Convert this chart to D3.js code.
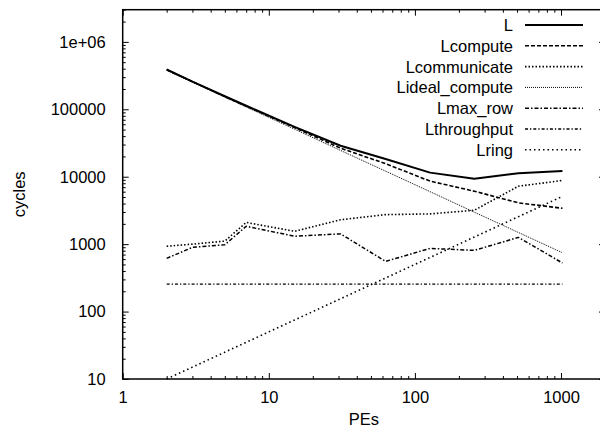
<!DOCTYPE html>
<html>
<head>
<meta charset="utf-8">
<script src="https://cdn.jsdelivr.net/npm/d3@7"></script>
<style>
  html, body { margin: 0; padding: 0; background: #fff; }
  svg { display: block; }
  text { font-family: "Liberation Sans", Arial, Helvetica, sans-serif; font-size: 16.5px; fill: #000; }
</style>
</head>
<body>
<svg id="chart" width="600" height="432"></svg>
<script>
// ---- data ----
const pes = [2, 3, 5, 7, 15, 31, 63, 127, 255, 511, 1023];
const L            = [389000, 258000, 156000, 113000, 55000, 28800, 18300, 11500, 9300, 11300, 12200];
const Lcompute     = [386000, 257000, 154000, 111000, 53500, 26500, 15600, 8600, 6100, 4100, 3400];
const Lcommunicate = [930, 1000, 1110, 2100, 1550, 2300, 2740, 2810, 3180, 7230, 8800];
const Lideal       = [380000, 253000, 152000, 108500, 50700, 24500, 12100, 6000, 2980, 1490, 745];
const Lmax_row     = [615, 896, 980, 1840, 1310, 1420, 555, 865, 808, 1260, 525];
const Lthroughput  = [256, 256, 256, 256, 256, 256, 256, 256, 256, 256, 256];
const Lring        = [10, 15, 25, 35, 75, 155, 315, 635, 1275, 2555, 5115];

const seriesNames = ["L", "Lcompute", "Lcommunicate", "Lideal_compute", "Lmax_row", "Lthroughput", "Lring"];
const seriesData  = [L, Lcompute, Lcommunicate, Lideal, Lmax_row, Lthroughput, Lring];

const xTickValues = [1, 10, 100, 1000];
const xTickLabels = ["1", "10", "100", "1000"];
const yTickValues = [10, 100, 1000, 10000, 100000, 1000000];
const yTickLabels = ["10", "100", "1000", "10000", "100000", "1e+06"];
const xLabel = "PEs";
const yLabel = "cycles";

// ---- styles ----
const styles = [
  { w: 2.0, dash: null },
  { w: 1.6, dash: "4,2" },
  { w: 1.6, dash: "1.5,2" },
  { w: 1.0, dash: "1,1" },
  { w: 1.5, dash: "4,2,1.5,2" },
  { w: 1.3, dash: "3,2,1.3,2" },
  { w: 1.6, dash: "1.5,3" }
];

const pLeft = 122.7, pRight = 605, pTop = 9.7, pBottom = 379;
const svg = d3.select("#chart");

const x = d3.scaleLog().domain([1, 2000]).range([pLeft, pRight]);
const y = d3.scaleLog().domain([10, 3e6]).range([pBottom, pTop]);

// minor ticks
const xMinor = [];
for (let d = 1; d <= 1000; d *= 10) for (let k = 2; k <= 9; k++) if (d * k <= 2000) xMinor.push(d * k);
const yMinor = [];
for (let d = 10; d <= 1e6; d *= 10) for (let k = 2; k <= 9; k++) if (d * k <= 3e6) yMinor.push(d * k);

function styleAxis(g) {
  g.select(".domain").remove();
  g.selectAll(".tick line").attr("stroke", "#000").attr("stroke-width", 1);
}

// bottom axis (ticks inward)
svg.append("g").attr("transform", `translate(0,${pBottom})`)
  .call(d3.axisBottom(x).tickValues(xTickValues).tickSizeInner(-6).tickSizeOuter(0)
    .tickFormat((d, i) => xTickLabels[i]).tickPadding(12.5))
  .call(styleAxis)
  .call(g => g.selectAll("text").attr("font-size", "16.5px").attr("font-family", null));
svg.append("g").attr("transform", `translate(0,${pBottom})`)
  .call(d3.axisBottom(x).tickValues(xMinor).tickSizeInner(-3).tickSizeOuter(0).tickFormat(""))
  .call(styleAxis);
// top mirror
svg.append("g").attr("transform", `translate(0,${pTop})`)
  .call(d3.axisTop(x).tickValues(xTickValues).tickSizeInner(-6).tickSizeOuter(0).tickFormat(""))
  .call(styleAxis);
svg.append("g").attr("transform", `translate(0,${pTop})`)
  .call(d3.axisTop(x).tickValues(xMinor).tickSizeInner(-3).tickSizeOuter(0).tickFormat(""))
  .call(styleAxis);
// left axis
svg.append("g").attr("transform", `translate(${pLeft},0)`)
  .call(d3.axisLeft(y).tickValues(yTickValues).tickSizeInner(-6).tickSizeOuter(0)
    .tickFormat((d, i) => yTickLabels[i]).tickPadding(17))
  .call(styleAxis)
  .call(g => g.selectAll("text").attr("font-size", "16.5px").attr("font-family", null));
svg.append("g").attr("transform", `translate(${pLeft},0)`)
  .call(d3.axisLeft(y).tickValues(yMinor).tickSizeInner(-3).tickSizeOuter(0).tickFormat(""))
  .call(styleAxis);
// right mirror
svg.append("g").attr("transform", `translate(${pRight},0)`)
  .call(d3.axisRight(y).tickValues(yTickValues).tickSizeInner(-6).tickSizeOuter(0).tickFormat(""))
  .call(styleAxis);
svg.append("g").attr("transform", `translate(${pRight},0)`)
  .call(d3.axisRight(y).tickValues(yMinor).tickSizeInner(-3).tickSizeOuter(0).tickFormat(""))
  .call(styleAxis);

// border
svg.append("rect").attr("x", pLeft).attr("y", pTop)
  .attr("width", pRight - pLeft).attr("height", pBottom - pTop)
  .attr("fill", "none").attr("stroke", "#000").attr("stroke-width", 1.5);

// axis titles
svg.append("text").attr("x", (pLeft + pRight) / 2).attr("y", 425).attr("text-anchor", "middle").text(xLabel);
svg.append("text").attr("transform", `translate(25,${(pTop + pBottom) / 2}) rotate(-90)`)
  .attr("text-anchor", "middle").text(yLabel);

// lines
const line = d3.line().x((d, i) => x(pes[i])).y(d => y(d));
seriesData.forEach((s, k) => {
  svg.append("path").datum(s)
    .attr("d", line)
    .attr("fill", "none")
    .attr("stroke", "#000")
    .attr("stroke-width", styles[k].w)
    .attr("stroke-dasharray", styles[k].dash)
    .attr("stroke-linejoin", "round");
});

// legend
const legY0 = 25, legDy = 20.8;
seriesNames.forEach((name, k) => {
  const yy = legY0 + k * legDy;
  svg.append("text").attr("x", 513).attr("y", yy + 6).attr("text-anchor", "end").text(name);
  svg.append("line").attr("x1", 525).attr("x2", 583).attr("y1", yy).attr("y2", yy)
    .attr("stroke", "#000").attr("stroke-width", styles[k].w)
    .attr("stroke-dasharray", styles[k].dash);
});
</script>
</body>
</html>
